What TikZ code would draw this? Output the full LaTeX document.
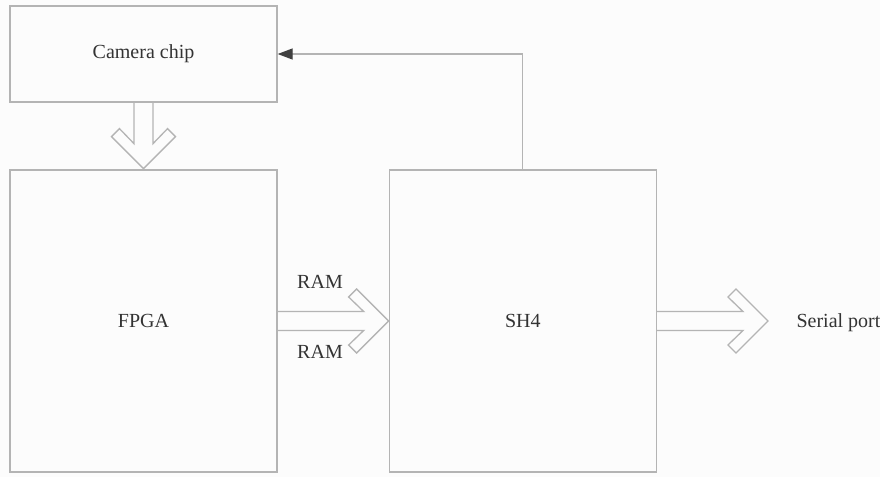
\documentclass[tikz,border=0pt]{standalone}
\usepackage{fontspec}
\setmainfont{Liberation Serif}
\usepackage{tikz}
\usetikzlibrary{positioning, arrows.meta, calc}

\definecolor{linegray}{HTML}{B4B4B4}
\definecolor{textgray}{HTML}{333333}
\definecolor{headgray}{HTML}{404040}

\begin{document}
\begin{tikzpicture}[
  x=1pt, y=1pt,
  font=\fontsize{20}{23}\selectfont, text=textgray,
  box/.style={draw=linegray, line width=1.3pt, minimum width=267pt,
    inner sep=0pt},
  arrow/.style={draw=linegray, line width=1.3pt,
    -{Triangle[length=15pt, width=11pt, fill=headgray, color=headgray]}},
  fatline/.style={draw=linegray, line width=1.3pt, line join=miter},
  fatarrow/.pic={
    \draw[fatline] (0,-9.5) -- (#1-25,-9.5) -- (#1-40,-24) -- (#1-32,-32)
      -- (#1,0) -- (#1-32,32) -- (#1-40,24) -- (#1-25,9.5) -- (0,9.5);
  },
]
  \fill[white!99!black] (0,0) rectangle (880,-477);
  \useasboundingbox (0,0) rectangle (880,-477);

  \node[box, minimum height=96pt] (cam) at (143.5,-54) {Camera chip};
  \node[box, minimum height=302pt] (fpga) at (143.5,-321) {FPGA};
  \node[box, minimum height=302pt, right=111pt of fpga] (sh4) {SH4};
  \node[anchor=west] (serial) at (793,-323) {Serial port};
  \node (ramup) at (320,-282) {RAM};
  \node (ramdown) at (320,-352) {RAM};

  \pic[rotate=-90] at (cam.south) {fatarrow=66};
  \pic at (fpga.east) {fatarrow=111};
  \pic at (sh4.east) {fatarrow=111};

  \draw[arrow] (sh4.north) |- (cam.east);
\end{tikzpicture}
\end{document}
